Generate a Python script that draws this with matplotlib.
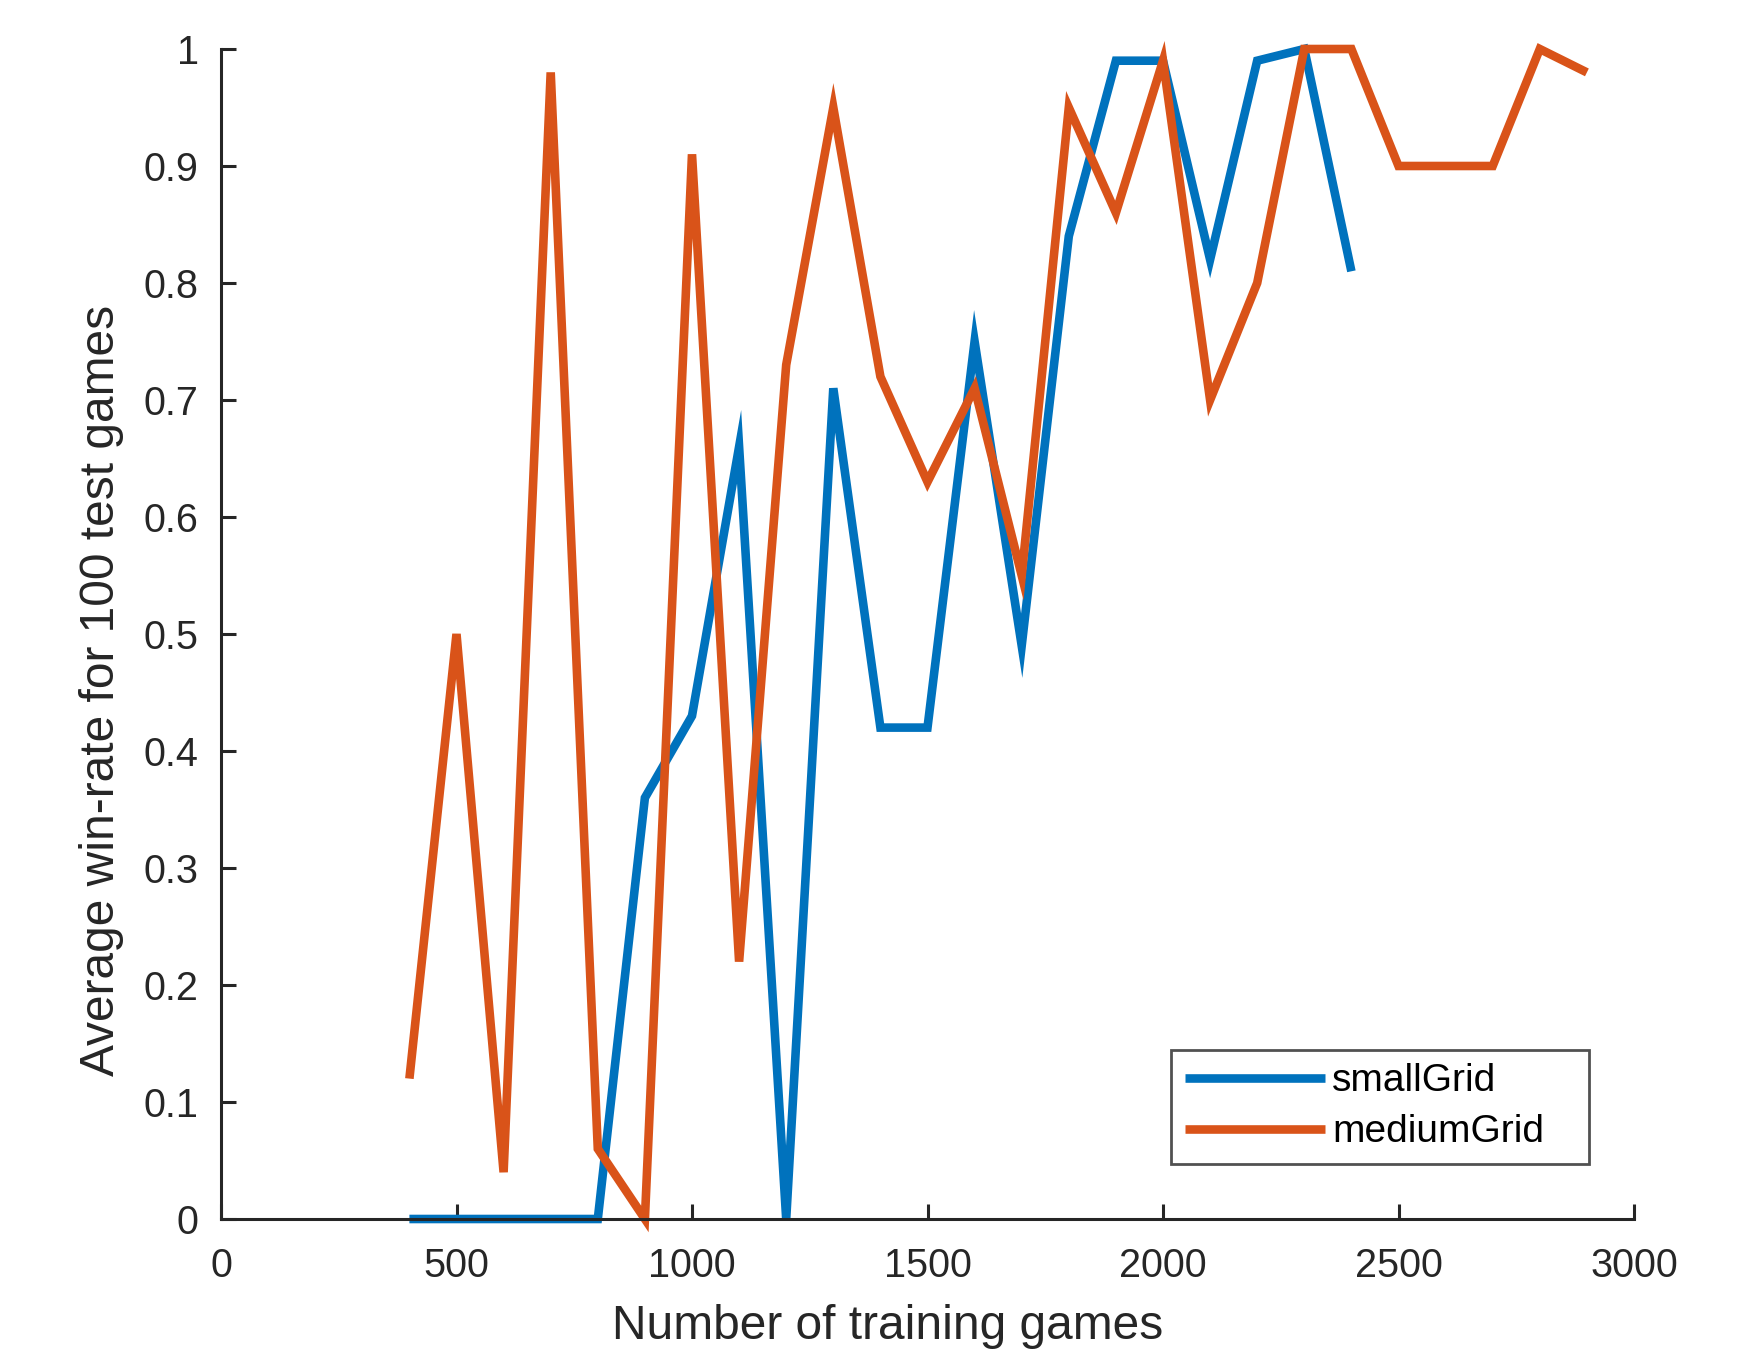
import matplotlib
matplotlib.use("Agg")
import matplotlib.pyplot as plt
import numpy as np

small_x = [400, 500, 600, 700, 800, 900, 1000, 1100, 1200, 1300, 1400, 1500,
           1600, 1700, 1800, 1900, 2000, 2100, 2200, 2300, 2400]
small_y = [0.0, 0.0, 0.0, 0.0, 0.0, 0.36, 0.43, 0.66, 0.0, 0.71, 0.42, 0.42,
           0.75, 0.49, 0.84, 0.99, 0.99, 0.82, 0.99, 1.0, 0.81]

medium_x = [400, 500, 600, 700, 800, 900, 1000, 1100, 1200, 1300, 1400, 1500,
            1600, 1700, 1800, 1900, 2000, 2100, 2200, 2300, 2400, 2500, 2600,
            2700, 2800, 2900]
medium_y = [0.12, 0.50, 0.04, 0.98, 0.06, 0.0, 0.91, 0.22, 0.73, 0.95, 0.72,
            0.63, 0.71, 0.55, 0.95, 0.86, 0.99, 0.70, 0.80, 1.0, 1.0, 0.90,
            0.90, 0.90, 1.0, 0.98]

x_ticks = [0, 500, 1000, 1500, 2000, 2500, 3000]
y_ticks = [0, 0.1, 0.2, 0.3, 0.4, 0.5, 0.6, 0.7, 0.8, 0.9, 1.0]
y_tick_labels = ["0", "0.1", "0.2", "0.3", "0.4", "0.5", "0.6", "0.7", "0.8", "0.9", "1"]

plt.rcParams["font.family"] = ["Liberation Sans", "DejaVu Sans"]
axis_color = "#262626"

fig = plt.figure(figsize=(17.52, 13.51), dpi=100)
ax = fig.add_axes([221 / 1752, 1 - 1219 / 1351, (1634 - 221) / 1752, (1219 - 49) / 1351])

lw = 6.2
ax.plot(small_x, small_y, color="#0072BD", linewidth=lw, label="smallGrid",
        solid_joinstyle="miter", solid_capstyle="butt", clip_on=False)
ax.plot(medium_x, medium_y, color="#D95319", linewidth=lw, label="mediumGrid",
        solid_joinstyle="miter", solid_capstyle="butt", clip_on=False)

ax.set_xlim(0, 3000)
ax.set_ylim(0, 1)
ax.set_xticks(x_ticks)
ax.set_xticklabels([str(t) for t in x_ticks])
ax.set_yticks(y_ticks)
ax.set_yticklabels(y_tick_labels)

for side in ["top", "right"]:
    ax.spines[side].set_visible(False)
for side in ["left", "bottom"]:
    ax.spines[side].set_linewidth(2.2)
    ax.spines[side].set_color(axis_color)

ax.tick_params(direction="in", length=11, width=2.2, color=axis_color,
               labelcolor=axis_color, labelsize=28.5)
ax.tick_params(axis="y", pad=16)
ax.tick_params(axis="x", pad=20)

ax.set_xlabel("Number of training games", fontsize=34.5, color=axis_color, labelpad=14)
ax.set_ylabel("Average win-rate for 100 test games", fontsize=34.5, color=axis_color, labelpad=14)
# labels sit a bit off-centre in the original
ax.xaxis.label.set_x(0.4716)
ax.yaxis.label.set_y(0.4518)

leg_x0, leg_y0 = 1171 / 1752, 1 - 1164 / 1351
leg_w, leg_h = 418 / 1752, 116 / 1351
leg = ax.legend(loc="lower left", bbox_to_anchor=(leg_x0, leg_y0, leg_w, leg_h),
                bbox_transform=fig.transFigure, mode="expand", fontsize=28,
                frameon=True, fancybox=False, handlelength=3.6, handletextpad=0.2,
                borderpad=0.35, labelspacing=0.39, borderaxespad=0)
leg.get_frame().set_edgecolor(axis_color)
leg.get_frame().set_linewidth(2.0)

fig.savefig("out.png", dpi=100)
